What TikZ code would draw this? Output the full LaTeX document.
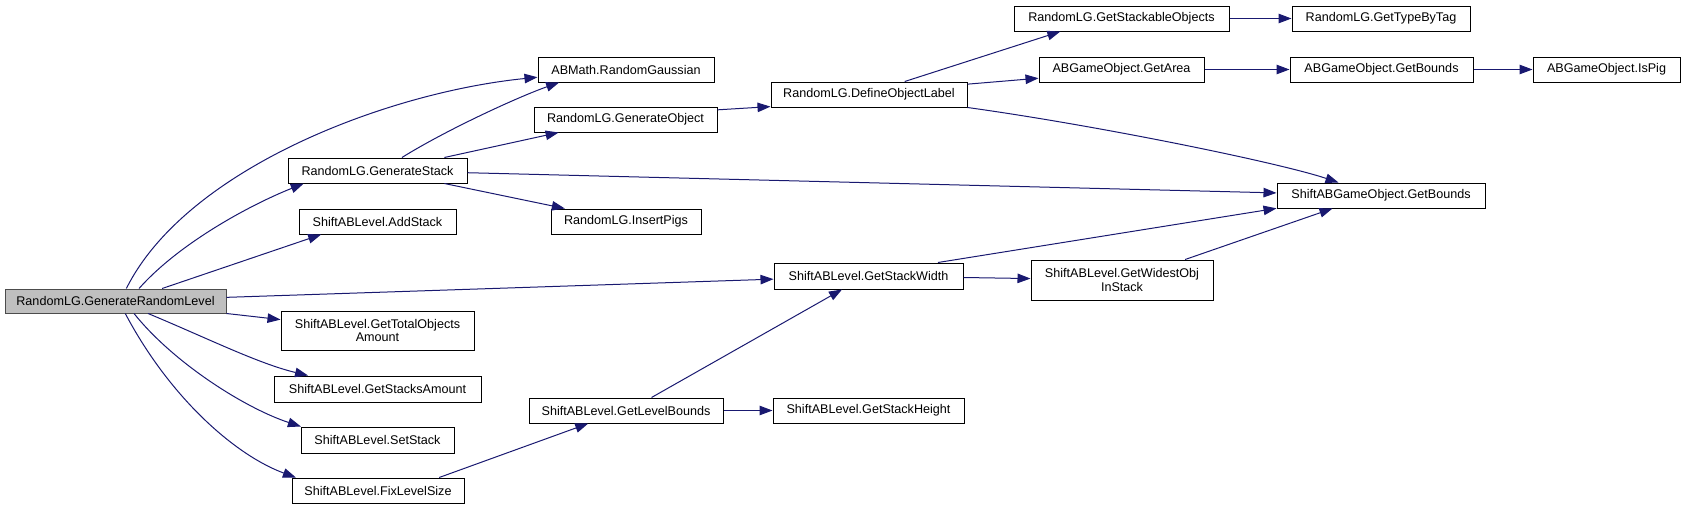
\documentclass[tikz,border=0pt]{standalone}
\usepackage{fontspec}
\setmainfont{Liberation Sans}
\usetikzlibrary{arrows.meta}
\definecolor{edgeblue}{HTML}{191970}
\definecolor{rootgray}{HTML}{BFBFBF}
\begin{document}
\begin{tikzpicture}[x=1pt,y=-1pt,
    func/.style={draw=black,line width=1pt,fill=white,inner sep=0pt,minimum height=25pt,
      align=center,font=\fontsize{12.6}{13.3}\selectfont},
    caller/.style={func,draw=black!70,fill=rootgray},
    call/.style={edgeblue,line width=1pt,-{Triangle[length=13pt,width=9.5pt]}}
]
\useasboundingbox (0,0) rectangle (1685,509);

\node[caller] (GRL)   at (115.5,301)  [minimum width=221pt,minimum height=24pt] {RandomLG.GenerateRandomLevel};
\node[func]   (RG)    at (626,69.5)   [minimum width=176pt] {ABMath.RandomGaussian};
\node[func]   (GO)    at (625.5,119.5)[minimum width=183pt] {RandomLG.GenerateObject};
\node[func]   (GS)    at (377.5,170.5)[minimum width=179pt] {RandomLG.GenerateStack};
\node[func]   (AS)    at (377.5,221.5)[minimum width=157pt] {ShiftABLevel.AddStack};
\node[func]   (IP)    at (626,221.5)  [minimum width=150pt] {RandomLG.InsertPigs};
\node[func]   (GTOA)  at (377.5,330.5)[minimum width=193pt,minimum height=39pt] {ShiftABLevel.GetTotalObjects\\Amount};
\node[func]   (GSA)   at (377.5,389)  [minimum width=207pt,minimum height=26pt] {ShiftABLevel.GetStacksAmount};
\node[func]   (SS)    at (377.5,440)  [minimum width=153pt,minimum height=26pt] {ShiftABLevel.SetStack};
\node[func]   (FLS)   at (378,490.5)  [minimum width=172pt] {ShiftABLevel.FixLevelSize};
\node[func]   (DOL)   at (869,94.5)   [minimum width=196pt] {RandomLG.DefineObjectLabel};
\node[func]   (GSO)   at (1121.5,18.5)[minimum width=215pt] {RandomLG.GetStackableObjects};
\node[func]   (GA)    at (1121.5,69.5)[minimum width=165pt] {ABGameObject.GetArea};
\node[func]   (GTT)   at (1381,18.5)  [minimum width=178pt] {RandomLG.GetTypeByTag};
\node[func]   (ABGB)  at (1381.5,69.5)[minimum width=183pt] {ABGameObject.GetBounds};
\node[func]   (IsPig) at (1606.5,69.5)[minimum width=147pt] {ABGameObject.IsPig};
\node[func]   (SGB)   at (1381,195.5) [minimum width=208pt] {ShiftABGameObject.GetBounds};
\node[func]   (GSW)   at (868.5,276)  [minimum width=189pt,minimum height=26pt] {ShiftABLevel.GetStackWidth};
\node[func]   (GWOIS) at (1122,280)   [minimum width=182pt,minimum height=40pt] {ShiftABLevel.GetWidestObj\\InStack};
\node[func]   (GLB)   at (626,410.5)  [minimum width=194pt] {ShiftABLevel.GetLevelBounds};
\node[func]   (GSH)   at (868.5,410.5)[minimum width=191pt] {ShiftABLevel.GetStackHeight};

% calls of the root
\draw[call] (GRL.49) .. controls +(60,-120) and +(-150,15) .. (RG.185);
\draw[call] (GRL.28) .. controls +(40,-45) and +(-55,22) .. (GS.190);
\draw[call] (GRL.15) -- (AS.193);
\draw[call] (GRL) -- (GSW);
\draw[call] (GRL) -- (GTOA);
\draw[call] (GRL.-21) .. controls +(60,25) and +(-50,-12) .. (GSA.169);
\draw[call] (GRL.-34) .. controls +(40,50) and +(-55,-18) .. (SS.170);
\draw[call] (GRL.-52) .. controls +(45,85) and +(-60,-22) .. (FLS.171);

% stack generation
\draw[call] (GS.28) .. controls +(45,-28) and +(-40,14) .. (RG.191);
\draw[call] (GS.11) -- (GO.191);
\draw[call] (GS) -- (SGB);
\draw[call] (GS.-11) -- (IP.168);
\draw[call] (GO.6) -- (DOL.187);
\draw[call] (DOL.20) -- (GSO.192);
\draw[call] (DOL.6) -- (GA.186);
\draw[call] (DOL.south east) .. controls +(130,18) and +(-60,-20) .. (SGB.163);
\draw[call] (GSO) -- (GTT);
\draw[call] (GA) -- (ABGB);
\draw[call] (ABGB) -- (IsPig);

% level bounds
\draw[call] (GSW.11) -- (SGB.187);
\draw[call] (GSW) -- (GWOIS);
\draw[call] (GWOIS.18) -- (SGB.195);
\draw[call] (FLS.12) -- (GLB.199);
\draw[call] (GLB.27) -- (GSW.207);
\draw[call] (GLB) -- (GSH);
\end{tikzpicture}
\end{document}
